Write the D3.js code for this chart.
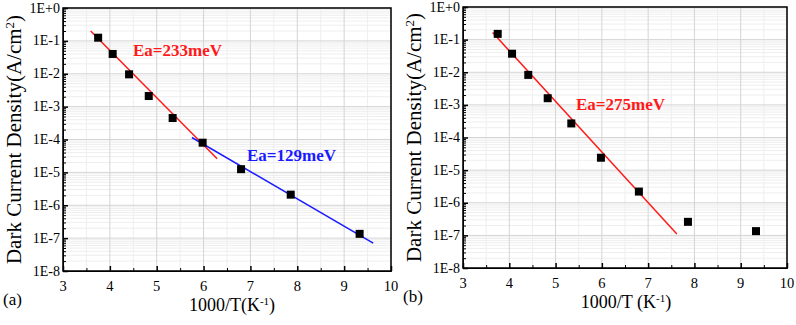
<!DOCTYPE html>
<html>
<head>
<meta charset="utf-8">
<script src="https://cdn.jsdelivr.net/npm/d3@7"></script>
<style>
  body { margin: 0; background: #fff; }
  svg text { font-family: "Liberation Serif", "Times New Roman", serif; }
</style>
</head>
<body>
<svg id="chart" width="796" height="325"></svg>
<script>
// data
const invT = [3.75, 4.06, 4.41, 4.83, 5.34, 5.98, 6.80, 7.86, 9.33]
const jA = [0.125, 0.04, 0.0096, 0.0021, 4.5e-4, 8e-5, 1.25e-5, 2.1e-6, 1.35e-7]
const jB = [0.15, 0.037, 0.0083, 0.0016, 2.7e-4, 2.4e-5, 2.2e-6, 2.6e-7, 1.35e-7]
const fitA1 = [[3.59, 0.2], [6.29, 2.6e-5]]
const fitA2 = [[5.75, 1.15e-4], [9.62, 7e-8]]
const fitB = [[3.64, 0.165], [7.62, 1.1e-7]]
const xTicks = [3, 4, 5, 6, 7, 8, 9, 10]
const yTicks = [1, 1e-1, 1e-2, 1e-3, 1e-4, 1e-5, 1e-6, 1e-7, 1e-8]
const yTickLabels = ["1E+0", "1E-1", "1E-2", "1E-3", "1E-4", "1E-5", "1E-6", "1E-7", "1E-8"]

const svg = d3.select("#chart")

function panel(opt) {
  const g = svg.append("g")
  const x = d3.scaleLinear().domain([3, 10]).range([opt.left, opt.right])
  const y = d3.scaleLog().domain([1e-8, 1]).range([opt.bottom, opt.top])

  // minor grid
  const minorX = d3.range(3.5, 10, 1)
  const minorY = []
  yTicks.slice(0, -1).forEach(d => { for (let k = 2; k < 10; k++) minorY.push(d / 10 * k) })
  g.selectAll(".mgx").data(minorX).enter().append("line")
    .attr("x1", d => x(d)).attr("x2", d => x(d))
    .attr("y1", opt.top).attr("y2", opt.bottom)
    .attr("stroke", "#eeeeee").attr("stroke-width", 1)
  g.selectAll(".mgy").data(minorY).enter().append("line")
    .attr("x1", opt.left).attr("x2", opt.right)
    .attr("y1", d => y(d)).attr("y2", d => y(d))
    .attr("stroke", "#eeeeee").attr("stroke-width", 1)

  // major grid
  g.selectAll(".gx").data(xTicks).enter().append("line")
    .attr("x1", d => x(d)).attr("x2", d => x(d))
    .attr("y1", opt.top).attr("y2", opt.bottom)
    .attr("stroke", "#d4d4d4").attr("stroke-width", 1)
  g.selectAll(".gy").data(yTicks).enter().append("line")
    .attr("x1", opt.left).attr("x2", opt.right)
    .attr("y1", d => y(d)).attr("y2", d => y(d))
    .attr("stroke", "#d4d4d4").attr("stroke-width", 1)

  // axes, ticks pointing inward
  g.append("g").attr("transform", `translate(0,${opt.bottom})`)
    .call(d3.axisTop(x).tickValues(xTicks).tickSize(5).tickFormat(""))
    .call(s => s.selectAll("line").attr("stroke-width", 1.5))
  g.append("g").attr("transform", `translate(0,${opt.bottom})`)
    .call(d3.axisTop(x).tickValues(minorX).tickSize(3).tickFormat(""))
    .call(s => s.select(".domain").remove())
  g.selectAll(".xl").data(xTicks).enter().append("text")
    .attr("x", d => x(d)).attr("y", opt.bottom + 20)
    .attr("text-anchor", "middle").attr("font-size", 14.5).text(d => d)

  g.append("g").attr("transform", `translate(${opt.left},0)`)
    .call(d3.axisRight(y).tickValues(yTicks).tickSize(5).tickFormat(""))
    .call(s => s.selectAll("line").attr("stroke-width", 1.5))
  g.append("g").attr("transform", `translate(${opt.left},0)`)
    .call(d3.axisRight(y).tickValues(minorY).tickSize(3).tickFormat(""))
    .call(s => s.select(".domain").remove())
  g.selectAll(".yl").data(yTicks).enter().append("text")
    .attr("x", opt.left - 3).attr("y", d => y(d) + 4.5)
    .attr("text-anchor", "end").attr("font-size", 14)
    .text((d, i) => yTickLabels[i])

  // frame
  g.append("rect").attr("x", opt.left).attr("y", opt.top)
    .attr("width", opt.right - opt.left).attr("height", opt.bottom - opt.top)
    .attr("fill", "none").attr("stroke", "#000").attr("stroke-width", 1.5)

  // fit lines
  const line = d3.line().x(d => x(d[0])).y(d => y(d[1]))
  opt.fits.forEach(f => {
    g.append("path").datum(f.pts).attr("d", line)
      .attr("fill", "none").attr("stroke", f.color).attr("stroke-width", 1.5)
  })

  // data squares
  g.selectAll(".pt").data(invT.map((d, i) => [d, opt.vals[i]])).enter().append("rect")
    .attr("x", d => x(d[0]) - 4).attr("y", d => y(d[1]) - 4)
    .attr("width", 8).attr("height", 8).attr("fill", "#000")

  // annotations
  opt.labels.forEach(l => {
    g.append("text").attr("x", l.x).attr("y", l.y)
      .attr("font-size", 17).attr("font-weight", "bold").attr("fill", l.color)
      .text(l.text)
  })

  // axis titles
  g.append("text")
    .attr("transform", `translate(${opt.left - 42},${(opt.top + opt.bottom) / 2}) rotate(-90)`)
    .attr("text-anchor", "middle").attr("font-size", 21)
    .html('Dark Current Density(A/cm<tspan dy="-7" font-size="13">2</tspan><tspan dy="7">)</tspan>')
  g.append("text").attr("x", opt.xTitleX).attr("y", opt.bottom + 40)
    .attr("text-anchor", "middle").attr("font-size", 18)
    .html(opt.xTitle + '(K<tspan dy="-6" font-size="11">-1</tspan><tspan dy="6">)</tspan>')
  g.append("text").attr("x", opt.tagX).attr("y", opt.bottom + 34)
    .attr("font-size", 17).text(opt.tag)
}

panel({
  left: 63, right: 391, top: 8, bottom: 271,
  vals: jA,
  fits: [{ pts: fitA1, color: "#ff1a1a" }, { pts: fitA2, color: "#1a1aff" }],
  labels: [{ x: 133, y: 56, text: "Ea=233meV", color: "#ff1a1a" },
           { x: 247, y: 161, text: "Ea=129meV", color: "#1a1aff" }],
  xTitle: "1000/T", xTitleX: 232, tag: "(a)", tagX: 3
})
panel({
  left: 463, right: 787, top: 7, bottom: 268,
  vals: jB,
  fits: [{ pts: fitB, color: "#ff1a1a" }],
  labels: [{ x: 576, y: 110, text: "Ea=275meV", color: "#ff1a1a" }],
  xTitle: "1000/T ", xTitleX: 626, tag: "(b)", tagX: 403
})
</script>
</body>
</html>
